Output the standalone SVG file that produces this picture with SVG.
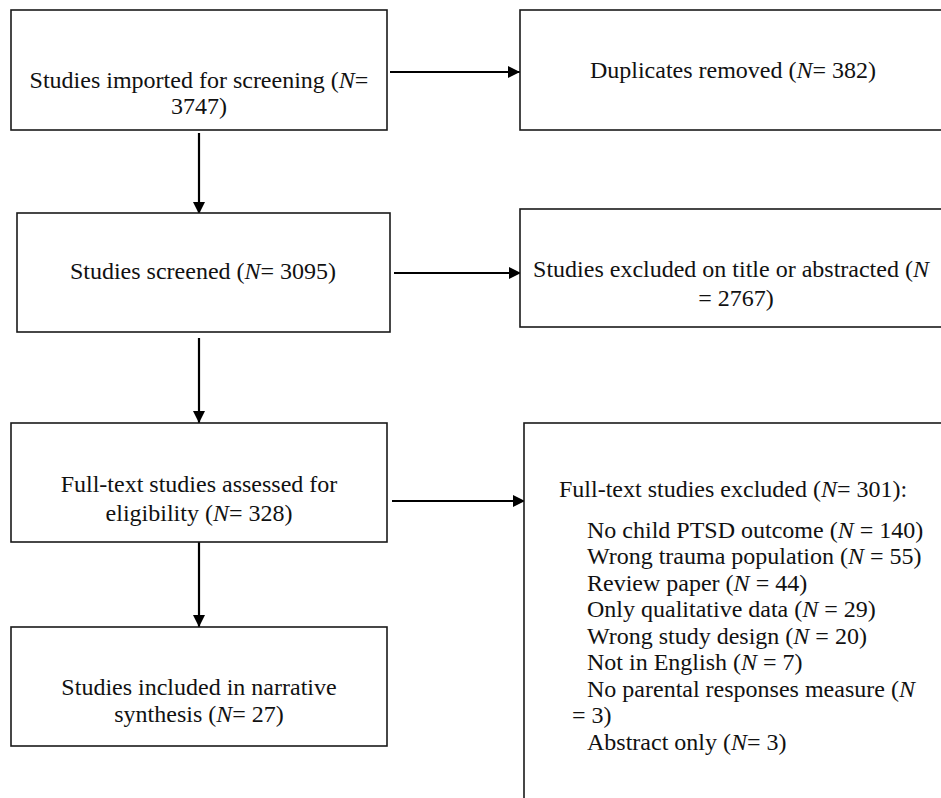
<svg xmlns="http://www.w3.org/2000/svg" width="941" height="798" viewBox="0 0 941 798">
<style>
.box{fill:#fff;stroke:#1a1a1a;stroke-width:1.6}
.t{font-family:"Liberation Serif","Times New Roman",serif;font-size:24px;fill:#111}
.c{text-anchor:middle}
.i{font-style:italic}
.con{stroke:#000;stroke-width:2.2;fill:none}
</style>
<defs>
<marker id="ah" markerUnits="userSpaceOnUse" markerWidth="13" markerHeight="12" refX="12" refY="6" orient="auto">
<path d="M0,0 L12,6 L0,12 Z" fill="#000"/>
</marker>
</defs>
<rect width="941" height="798" fill="#fff"/>
<g id="connectors">
<line class="con" x1="390" y1="72" x2="520" y2="72" marker-end="url(#ah)"/>
<line class="con" x1="199" y1="133" x2="199" y2="214" marker-end="url(#ah)"/>
<line class="con" x1="394" y1="273" x2="521" y2="273" marker-end="url(#ah)"/>
<line class="con" x1="199" y1="338" x2="199" y2="423" marker-end="url(#ah)"/>
<line class="con" x1="392" y1="501" x2="525" y2="501" marker-end="url(#ah)"/>
<line class="con" x1="199" y1="542" x2="199" y2="627" marker-end="url(#ah)"/>
</g>
<g id="n1">
<rect class="box" x="11" y="10" width="376" height="120"/>
<text class="t c" x="199" y="88">Studies imported for screening (<tspan class="i">N</tspan>=</text>
<text class="t c" x="199" y="114">3747)</text>
</g>
<g id="n2">
<rect class="box" x="520" y="10" width="430" height="120"/>
<text class="t c" x="733" y="78">Duplicates removed (<tspan class="i">N</tspan>= 382)</text>
</g>
<g id="n3">
<rect class="box" x="17" y="213" width="373" height="119"/>
<text class="t c" x="203" y="279">Studies screened (<tspan class="i">N</tspan>= 3095)</text>
</g>
<g id="n4">
<rect class="box" x="520" y="209" width="430" height="118"/>
<text class="t c" x="731" y="277">Studies excluded on title or abstracted (<tspan class="i">N</tspan></text>
<text class="t c" x="736" y="306">= 2767)</text>
</g>
<g id="n5">
<rect class="box" x="11" y="423" width="376" height="119"/>
<text class="t c" x="199" y="492">Full-text studies assessed for</text>
<text class="t c" x="199" y="521">eligibility (<tspan class="i">N</tspan>= 328)</text>
</g>
<g id="n6">
<rect class="box" x="524" y="423" width="430" height="390"/>
<text class="t" x="559" y="497">Full-text studies excluded (<tspan class="i">N</tspan>= 301):</text>
<text class="t" x="587" y="538">No child PTSD outcome (<tspan class="i">N</tspan> = 140)</text>
<text class="t" x="587" y="564">Wrong trauma population (<tspan class="i">N</tspan> = 55)</text>
<text class="t" x="587" y="591">Review paper (<tspan class="i">N</tspan> = 44)</text>
<text class="t" x="587" y="617">Only qualitative data (<tspan class="i">N</tspan> = 29)</text>
<text class="t" x="587" y="644">Wrong study design (<tspan class="i">N</tspan> = 20)</text>
<text class="t" x="587" y="670">Not in English (<tspan class="i">N</tspan> = 7)</text>
<text class="t" x="587" y="697">No parental responses measure (<tspan class="i">N</tspan></text>
<text class="t" x="572" y="723">= 3)</text>
<text class="t" x="587" y="750">Abstract only (<tspan class="i">N</tspan>= 3)</text>
</g>
<g id="n7">
<rect class="box" x="11" y="627" width="376" height="119"/>
<text class="t c" x="199" y="695">Studies included in narrative</text>
<text class="t c" x="199" y="722">synthesis (<tspan class="i">N</tspan>= 27)</text>
</g>
</svg>
